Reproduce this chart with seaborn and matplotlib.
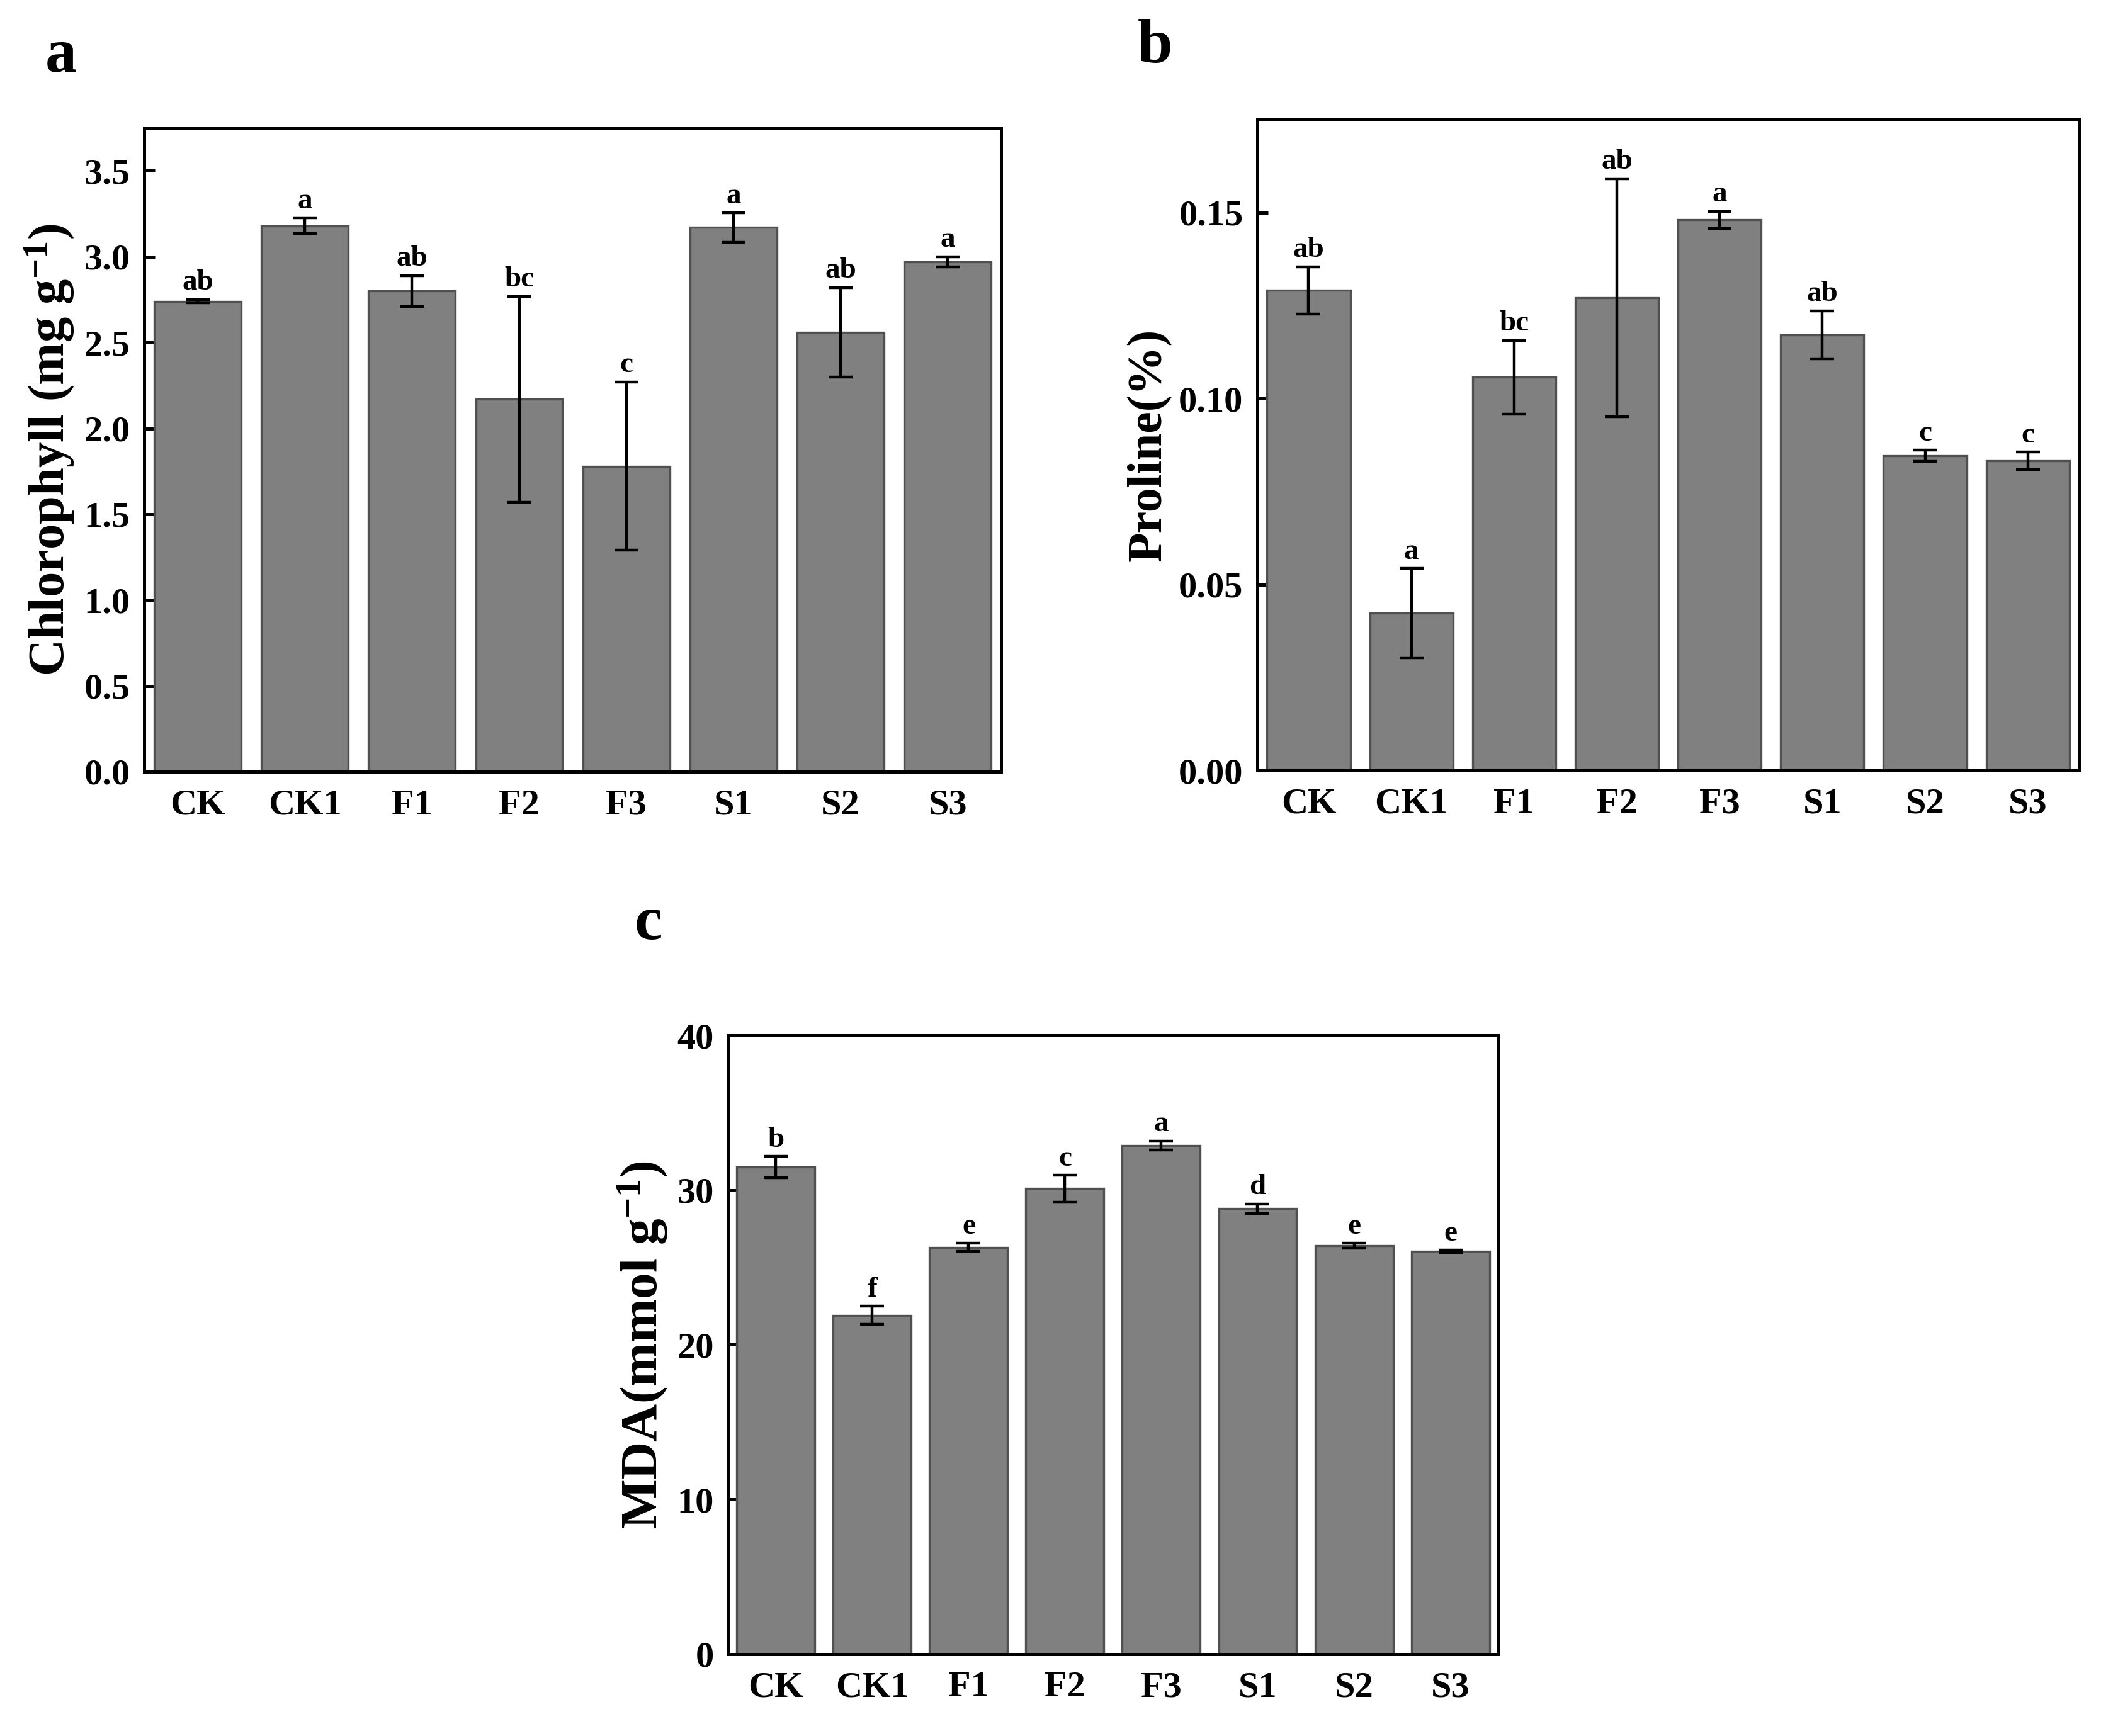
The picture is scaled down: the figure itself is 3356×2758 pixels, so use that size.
import numpy as np
import matplotlib
matplotlib.use("Agg")
import matplotlib.pyplot as plt
import seaborn as sns

# treatments
groups = ["CK", "CK1", "F1", "F2", "F3", "S1", "S2", "S3"]

# a: chlorophyll (mg g-1)
chl_mean = [2.74, 3.18, 2.80, 2.17, 1.78, 3.17, 2.56, 2.97]
chl_err = [0.01, 0.045, 0.09, 0.60, 0.49, 0.085, 0.26, 0.03]
chl_sig = ["ab", "a", "ab", "bc", "c", "a", "ab", "a"]

# b: proline (%)
pro_mean = [0.1291, 0.0423, 0.1058, 0.1272, 0.1481, 0.1172, 0.0846, 0.0833]
pro_err = [0.0064, 0.012, 0.0099, 0.032, 0.0023, 0.0064, 0.0015, 0.0023]
pro_sig = ["ab", "a", "bc", "ab", "a", "ab", "c", "c"]

# c: MDA (mmol g-1)
mda_mean = [31.5, 21.9, 26.3, 30.1, 32.9, 28.8, 26.4, 26.05]
mda_err = [0.68, 0.59, 0.27, 0.86, 0.29, 0.32, 0.16, 0.07]
mda_sig = ["b", "f", "e", "c", "a", "d", "e", "e"]

sns.set_theme(style="ticks")
plt.rcParams["font.family"] = ["Liberation Serif", "DejaVu Serif"]
plt.rcParams["font.weight"] = "bold"
plt.rcParams["axes.labelweight"] = "bold"
plt.rcParams["text.color"] = "black"
plt.rcParams["axes.labelcolor"] = "black"
plt.rcParams["xtick.color"] = "black"
plt.rcParams["ytick.color"] = "black"
plt.rcParams["mathtext.fontset"] = "custom"
plt.rcParams["mathtext.rm"] = "Liberation Serif:bold"
plt.rcParams["mathtext.it"] = "Liberation Serif:bold"
plt.rcParams["mathtext.bf"] = "Liberation Serif:bold"

fig = plt.figure(figsize=(16.78, 13.79), dpi=200)

ax_a = fig.add_axes([0.0682, 0.5555, 0.4057, 0.3708])
ax_b = fig.add_axes([0.5950, 0.5562, 0.3890, 0.3748])
ax_c = fig.add_axes([0.3444, 0.0473, 0.3648, 0.3561])


def draw_panel(ax, means, errs, sigs, ylim, yticks, ylabel, fmt, lsize):
    sns.barplot(x=groups, y=means, ax=ax, color="#808080", saturation=1,
                edgecolor="#505050", linewidth=1.2, width=0.81)
    ax.errorbar(np.arange(len(groups)), means, yerr=errs, fmt="none",
                ecolor="black", elinewidth=1.6, capsize=7, capthick=1.6)
    for i, (m, e, s) in enumerate(zip(means, errs, sigs)):
        ax.annotate(s, (i, m + e), xytext=(0, 2), textcoords="offset points",
                    ha="center", va="bottom", fontsize=17, fontweight="bold")
    ax.set_xlim(-0.5, 7.5)
    ax.set_ylim(*ylim)
    ax.set_yticks(yticks)
    ax.set_yticklabels([fmt.format(t) for t in yticks])
    ax.set_ylabel(ylabel, fontsize=lsize, fontweight="bold", labelpad=4)
    ax.set_xlabel("")
    ax.tick_params(direction="in", length=6, width=1.8, labelsize=21)
    ax.tick_params(axis="x", pad=10)
    ax.tick_params(axis="y", pad=8)
    for sp in ax.spines.values():
        sp.set_linewidth(1.8)
        sp.set_color("black")
    for lab in ax.get_xticklabels() + ax.get_yticklabels():
        lab.set_fontweight("bold")


draw_panel(ax_a, chl_mean, chl_err, chl_sig, (0, 3.75),
           [0.0, 0.5, 1.0, 1.5, 2.0, 2.5, 3.0, 3.5],
           r"Chlorophyll (mg g$^{-1}$)", "{:.1f}", 29)
draw_panel(ax_b, pro_mean, pro_err, pro_sig, (0, 0.175),
           [0.00, 0.05, 0.10, 0.15], "Proline(%)", "{:.2f}", 28)
draw_panel(ax_c, mda_mean, mda_err, mda_sig, (0, 40),
           [0, 10, 20, 30, 40], r"MDA(mmol g$^{-1}$)", "{:.0f}", 30)

fig.text(45 / 1568, 1 - 42 / 1289, "a", fontsize=36, fontweight="bold",
         ha="center", va="center")
fig.text(857 / 1568, 1 - 35 / 1289, "b", fontsize=36, fontweight="bold",
         ha="center", va="center")
fig.text(481 / 1568, 1 - 686 / 1289, "c", fontsize=36, fontweight="bold",
         ha="center", va="center")

fig.savefig("out.png", dpi=200)
